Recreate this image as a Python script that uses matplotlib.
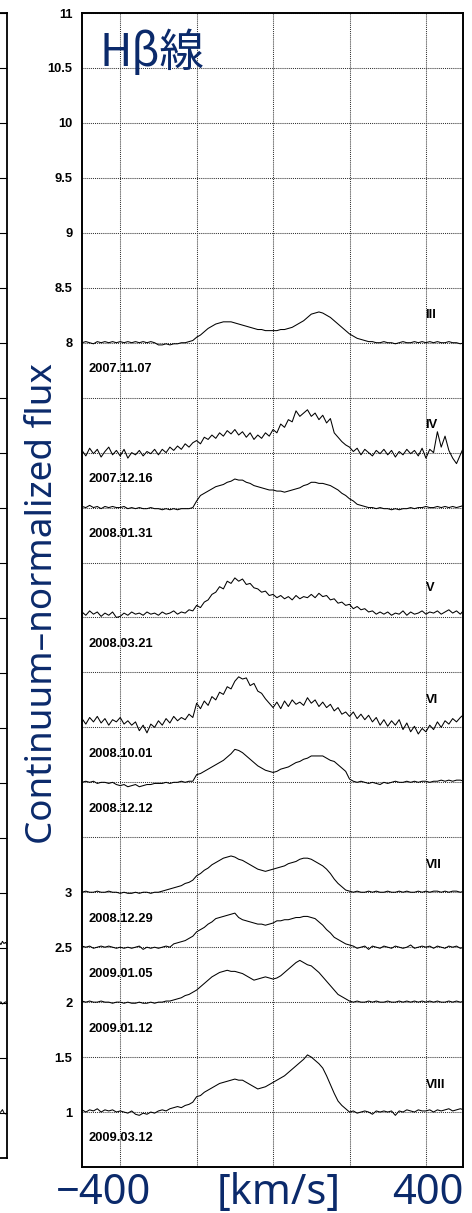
import numpy as np
import matplotlib
matplotlib.use("Agg")
import matplotlib.pyplot as plt

# ---------------- data ----------------
velocity = np.linspace(-500, 500, 101)   # km/s grid, 10 km/s step

# line profiles (flux above each spectrum's baseline)
prof_III = [0.00, 0.01, 0.00, -0.01, 0.01, 0.00, 0.01, 0.00, 0.01, 0.00,
            0.01, 0.00, 0.01, 0.00, 0.01, 0.00, 0.01, 0.00, 0.01, 0.00,
            -0.02, -0.02, -0.01, -0.02, -0.01, -0.01, 0.00, 0.00, 0.01, 0.02,
            0.05, 0.07, 0.10, 0.13, 0.15, 0.17, 0.18, 0.19, 0.19, 0.19,
            0.18, 0.17, 0.16, 0.15, 0.14, 0.13, 0.12, 0.12, 0.11, 0.11,
            0.11, 0.11, 0.12, 0.12, 0.13, 0.14, 0.16, 0.18, 0.20, 0.23,
            0.26, 0.27, 0.28, 0.27, 0.25, 0.23, 0.20, 0.17, 0.14, 0.11,
            0.08, 0.06, 0.04, 0.03, 0.02, 0.01, 0.01, 0.00, 0.00, 0.01,
            0.00, 0.00, -0.01, 0.00, 0.01, 0.00, 0.00, 0.01, 0.00, 0.01,
            0.00, 0.01, 0.00, 0.01, 0.00, 0.00, 0.01, 0.00, 0.00, -0.01,
            0.00]
prof_IV = [0.02, -0.03, 0.04, -0.01, 0.03, -0.04, 0.01, 0.05, -0.02, 0.02,
           -0.03, 0.03, -0.05, 0.00, -0.02, 0.02, -0.03, 0.01, -0.01, 0.03,
           -0.02, 0.03, 0.00, 0.05, 0.02, 0.06, 0.03, 0.08, 0.05, 0.09,
           0.11, 0.08, 0.14, 0.12, 0.16, 0.13, 0.18, 0.15, 0.20, 0.17,
           0.21, 0.16, 0.19, 0.14, 0.18, 0.12, 0.16, 0.13, 0.18, 0.15,
           0.21, 0.18, 0.26, 0.23, 0.30, 0.28, 0.38, 0.33, 0.36, 0.39,
           0.33, 0.36, 0.30, 0.34, 0.27, 0.31, 0.18, 0.14, 0.10, 0.07,
           0.05, 0.01, 0.04, -0.02, 0.03, 0.00, -0.03, 0.02, -0.01, 0.03,
           -0.02, 0.02, -0.04, 0.01, -0.02, 0.03, -0.01, 0.02, -0.03, 0.04,
           -0.05, 0.03, 0.00, 0.19, 0.05, 0.15, 0.02, -0.05, -0.10, -0.02,
           0.06]
prof_0131 = [0.01, 0.00, 0.02, 0.00, 0.01, -0.01, 0.01, 0.00, 0.01, 0.00,
             0.00, 0.01, -0.01, 0.00, -0.01, 0.00, -0.01, -0.01, 0.00, -0.01,
             -0.01, -0.02, -0.01, -0.02, -0.01, -0.02, -0.01, -0.01, -0.01, 0.00,
             0.06, 0.11, 0.13, 0.15, 0.17, 0.19, 0.20, 0.21, 0.23, 0.24,
             0.26, 0.25, 0.25, 0.23, 0.22, 0.20, 0.19, 0.18, 0.17, 0.16,
             0.16, 0.15, 0.15, 0.14, 0.15, 0.16, 0.17, 0.18, 0.20, 0.21,
             0.23, 0.23, 0.22, 0.22, 0.21, 0.20, 0.18, 0.16, 0.13, 0.11,
             0.08, 0.06, 0.03, 0.02, 0.01, 0.00, 0.00, -0.01, 0.00, -0.01,
             -0.01, -0.02, -0.01, -0.02, -0.01, -0.01, 0.00, -0.01, 0.00, 0.00,
             0.01, 0.00, 0.00, 0.01, 0.00, 0.01, 0.00, 0.01, 0.00, 0.01,
             0.02]
prof_V = [0.05, 0.02, 0.06, 0.03, 0.05, 0.01, 0.04, 0.02, 0.05, 0.00,
          0.01, 0.04, 0.02, 0.05, 0.03, 0.04, 0.02, 0.05, 0.03, 0.04,
          0.02, 0.05, 0.03, 0.04, 0.06, 0.03, 0.05, 0.04, 0.07, 0.06,
          0.11, 0.09, 0.14, 0.16, 0.21, 0.23, 0.28, 0.26, 0.33, 0.31,
          0.36, 0.33, 0.35, 0.30, 0.31, 0.27, 0.26, 0.23, 0.24, 0.20,
          0.21, 0.18, 0.20, 0.17, 0.19, 0.16, 0.20, 0.17, 0.19, 0.18,
          0.21, 0.18, 0.22, 0.19, 0.20, 0.16, 0.17, 0.13, 0.14, 0.11,
          0.12, 0.08, 0.10, 0.07, 0.08, 0.05, 0.06, 0.03, 0.05, 0.03,
          0.05, 0.02, 0.04, 0.03, 0.06, 0.02, 0.05, 0.03, 0.04, 0.06,
          0.03, 0.05, 0.04, 0.06, 0.03, 0.05, 0.07, 0.04, 0.06, 0.03,
          0.07]
prof_VI = [0.08, 0.03, 0.09, 0.05, 0.10, 0.04, 0.08, 0.02, 0.07, 0.05,
           0.09, 0.03, 0.06, 0.02, 0.05, -0.03, 0.02, -0.05, 0.03, 0.00,
           0.06, 0.02, 0.08, 0.04, 0.10, 0.06, 0.09, 0.07, 0.12, 0.09,
           0.22, 0.17, 0.24, 0.20, 0.28, 0.25, 0.32, 0.30, 0.37, 0.35,
           0.42, 0.46, 0.44, 0.45, 0.38, 0.40, 0.33, 0.31, 0.26, 0.22,
           0.18, 0.23, 0.17, 0.24, 0.19, 0.25, 0.21, 0.23, 0.20, 0.27,
           0.22, 0.25, 0.19, 0.23, 0.18, 0.21, 0.15, 0.18, 0.12, 0.14,
           0.10, 0.14, 0.08, 0.12, 0.07, 0.11, 0.05, 0.09, 0.02, 0.07,
           0.01, 0.06, 0.02, 0.07, -0.02, 0.04, -0.04, 0.01, -0.06, -0.01,
           -0.04, 0.02, -0.02, 0.05, 0.00, 0.06, 0.03, 0.08, 0.05, 0.09,
           0.12]
prof_1212 = [0.00, 0.01, 0.00, 0.01, -0.01, 0.00, 0.00, -0.01, 0.00, -0.02,
             -0.03, -0.02, -0.04, -0.03, -0.02, -0.04, -0.03, -0.02, -0.02, -0.01,
             -0.01, -0.01, 0.00, -0.01, 0.00, 0.00, 0.01, 0.00, 0.01, 0.01,
             0.07, 0.08, 0.10, 0.12, 0.14, 0.16, 0.18, 0.20, 0.23, 0.26,
             0.30, 0.29, 0.27, 0.24, 0.21, 0.18, 0.15, 0.13, 0.11, 0.10,
             0.09, 0.10, 0.12, 0.13, 0.14, 0.16, 0.18, 0.19, 0.21, 0.22,
             0.24, 0.24, 0.24, 0.24, 0.22, 0.20, 0.19, 0.16, 0.13, 0.10,
             0.03, 0.01, 0.00, 0.01, 0.00, -0.01, 0.00, -0.01, -0.02, 0.00,
             -0.01, 0.00, 0.01, 0.00, 0.00, 0.01, 0.00, 0.01, 0.00, 0.01,
             0.01, 0.00, 0.01, 0.01, 0.02, 0.01, 0.02, 0.01, 0.02, 0.02,
             0.01]
prof_VII = [0.00, 0.01, 0.00, 0.00, 0.01, 0.00, 0.00, 0.01, 0.00, 0.00,
            -0.01, 0.00, -0.01, -0.01, 0.00, -0.01, 0.00, 0.00, -0.01, 0.00,
            0.00, 0.01, 0.02, 0.03, 0.04, 0.05, 0.06, 0.08, 0.09, 0.11,
            0.15, 0.17, 0.20, 0.22, 0.25, 0.27, 0.29, 0.31, 0.32, 0.33,
            0.32, 0.30, 0.29, 0.27, 0.25, 0.23, 0.21, 0.20, 0.19, 0.20,
            0.21, 0.22, 0.23, 0.24, 0.26, 0.27, 0.28, 0.30, 0.31, 0.31,
            0.30, 0.28, 0.26, 0.24, 0.21, 0.17, 0.12, 0.08, 0.05, 0.02,
            0.01, 0.00, 0.01, 0.00, 0.00, 0.01, 0.00, 0.01, 0.00, 0.00,
            0.01, 0.00, 0.00, 0.01, 0.00, 0.01, 0.00, 0.00, 0.01, 0.00,
            0.01, 0.00, 0.01, 0.01, 0.00, 0.01, 0.00, 0.01, 0.01, 0.00,
            0.01]
prof_0105 = [0.01, 0.00, 0.01, -0.01, 0.00, 0.01, 0.00, 0.01, 0.00, -0.01,
             0.00, -0.01, 0.00, -0.01, 0.00, 0.01, -0.02, 0.00, -0.01, 0.00,
             -0.01, 0.00, 0.01, 0.00, 0.03, 0.04, 0.05, 0.06, 0.08, 0.10,
             0.14, 0.16, 0.18, 0.21, 0.23, 0.26, 0.27, 0.28, 0.29, 0.30,
             0.31, 0.27, 0.25, 0.24, 0.23, 0.22, 0.21, 0.21, 0.20, 0.21,
             0.22, 0.24, 0.24, 0.25, 0.25, 0.26, 0.27, 0.27, 0.28, 0.28,
             0.27, 0.26, 0.23, 0.20, 0.16, 0.13, 0.09, 0.07, 0.05, 0.03,
             0.02, 0.01, -0.01, 0.00, 0.01, -0.02, 0.01, 0.00, -0.01, 0.01,
             0.00, -0.01, 0.01, 0.00, -0.01, 0.00, 0.02, -0.01, 0.00, 0.01,
             0.00, 0.01, -0.01, 0.01, 0.00, -0.01, 0.01, 0.00, 0.01, -0.01,
             0.00]
prof_0112 = [0.01, 0.00, 0.01, 0.00, 0.00, 0.01, 0.00, 0.00, -0.01, 0.00,
             0.00, -0.01, 0.00, -0.01, -0.01, 0.00, -0.01, -0.01, 0.00, -0.01,
             0.00, 0.00, 0.01, 0.01, 0.02, 0.03, 0.04, 0.06, 0.07, 0.09,
             0.11, 0.14, 0.17, 0.20, 0.23, 0.25, 0.27, 0.28, 0.29, 0.28,
             0.28, 0.27, 0.26, 0.24, 0.22, 0.20, 0.21, 0.22, 0.23, 0.22,
             0.21, 0.22, 0.24, 0.27, 0.30, 0.33, 0.36, 0.38, 0.36, 0.34,
             0.33, 0.30, 0.27, 0.23, 0.19, 0.15, 0.11, 0.07, 0.05, 0.03,
             0.01, 0.00, 0.01, 0.00, 0.00, 0.01, 0.00, 0.01, 0.00, 0.00,
             0.01, 0.00, 0.00, 0.01, 0.00, 0.01, 0.00, 0.01, 0.00, 0.01,
             0.00, 0.01, 0.00, 0.01, 0.00, 0.00, 0.01, 0.00, 0.01, 0.00,
             0.01]
prof_VIII = [0.02, 0.00, 0.02, 0.01, 0.03, 0.00, 0.02, 0.01, 0.02, 0.00,
             0.01, 0.00, -0.01, 0.01, -0.02, -0.03, -0.01, -0.02, 0.00, -0.01,
             0.01, 0.02, 0.01, 0.03, 0.04, 0.05, 0.04, 0.06, 0.07, 0.09,
             0.14, 0.15, 0.18, 0.20, 0.22, 0.24, 0.26, 0.27, 0.28, 0.29,
             0.30, 0.29, 0.29, 0.27, 0.25, 0.23, 0.21, 0.22, 0.23, 0.25,
             0.27, 0.29, 0.31, 0.33, 0.36, 0.39, 0.42, 0.45, 0.48, 0.52,
             0.50, 0.47, 0.44, 0.40, 0.33, 0.25, 0.17, 0.10, 0.06, 0.03,
             0.00, 0.01, -0.01, 0.00, 0.01, 0.00, -0.02, 0.01, 0.00, 0.01,
             0.00, 0.01, -0.03, 0.01, 0.00, 0.02, 0.01, 0.00, 0.02, 0.01,
             0.01, 0.02, 0.00, 0.02, 0.01, 0.02, 0.03, 0.01, 0.02, 0.03,
             0.02]

profiles = [prof_III, prof_IV, prof_0131, prof_V, prof_VI,
            prof_1212, prof_VII, prof_0105, prof_0112, prof_VIII]
baselines = [8.0, 7.0, 6.5, 5.5, 4.5, 4.0, 3.0, 2.5, 2.0, 1.0]
dates = ["2007.11.07", "2007.12.16", "2008.01.31", "2008.03.21", "2008.10.01",
         "2008.12.12", "2008.12.29", "2009.01.05", "2009.01.12", "2009.03.12"]
phase_labels = ["III", "IV", "", "V", "VI", "", "VII", "", "", "VIII"]
phase_y = [8.25, 7.25, None, 5.77, 4.75, None, 3.25, None, None, 1.25]

ytick_values = [1, 1.5, 2, 2.5, 3, 3.5, 4, 4.5, 5, 5.5, 6, 6.5, 7, 7.5, 8,
                8.5, 9, 9.5, 10, 10.5, 11]
ytick_labels = ["1", "1.5", "2", "2.5", "3", "", "", "", "", "", "", "", "", "",
                "8", "8.5", "9", "9.5", "10", "10.5", "11"]
xgrid_values = [-400, -200, 0, 200, 400]

# fragments of the neighbouring panel visible at the left edge
left_v = [480, 484, 488, 492, 496, 500]
left_traces = [[2.55, 2.53, 2.56, 2.54, 2.55, 2.53],
               [2.00, 2.01, 1.99, 2.00, 2.01, 2.00],
               [1.00, 1.01, 1.03, 1.00, 0.99, 1.00]]

NAVY = "#0b2a6b"
SMALL = 9.3

# ---------------- figure ----------------
W, H = 472, 1213
fig = plt.figure(figsize=(W / 100, H / 100), dpi=100)

def px_rect(x0, y0, x1, y1):
    return [x0 / W, 1 - y1 / H, (x1 - x0) / W, (y1 - y0) / H]

# neighbouring panel (only its right edge is visible)
axL = fig.add_axes(px_rect(-374, 13, 7, 1158))
axL.set_xlim(-500, 500)
axL.set_ylim(0.59, 11)
for tr in left_traces:
    axL.plot(left_v, tr, color="black", lw=0.7)
axL.set_yticks([v for v in ytick_values if v >= 1])
axL.tick_params(axis="y", direction="in", length=6, width=0.8,
                left=False, right=True, labelleft=False)
axL.set_xticks([])
for s in axL.spines.values():
    s.set_linewidth(1.3)

# main panel
ax = fig.add_axes(px_rect(82, 13, 463, 1167))
ax.set_xlim(-500, 497)
ax.set_ylim(0.5, 11)

for prof, base in zip(profiles, baselines):
    ax.plot(velocity, np.array(prof) + base, color="black", lw=0.75)

for d, base in zip(dates, baselines):
    ax.text(-482, base - 0.24, d, fontsize=SMALL, fontweight="bold",
            family="Liberation Sans", ha="left", va="center")

for lab, yy in zip(phase_labels, phase_y):
    if lab:
        ax.text(399, yy, lab, fontsize=SMALL, fontweight="bold",
                family="Liberation Sans", ha="left", va="center")

ax.set_yticks(ytick_values)
ax.set_yticklabels(ytick_labels, fontsize=SMALL, fontweight="bold",
                   family="Liberation Sans")
ax.set_xticks(xgrid_values)
ax.set_xticklabels([])
ax.tick_params(axis="both", length=0, pad=7)
ax.grid(True, color="#333333", lw=0.75, linestyle=(0, (1, 1)))
for s in ax.spines.values():
    s.set_linewidth(1.4)

# overlay texts
fig.text(100 / W, 1 - 66 / H, "Hβ線", color=NAVY, fontsize=32,
         family=["Noto Sans CJK JP", "DejaVu Sans"], ha="left", va="baseline")
fig.text(43 / W, 1 - 603 / H, "Continuum–normalized flux", color=NAVY,
         fontsize=26.5, family="Noto Sans", rotation=90,
         ha="center", va="center")
fig.text(103 / W, 1 - 1193 / H, "−400", color=NAVY, fontsize=30,
         family="Noto Sans", ha="center", va="center")
fig.text(279 / W, 1 - 1193 / H, "[km/s]", color=NAVY, fontsize=30,
         family="Noto Sans", ha="center", va="center")
fig.text(428 / W, 1 - 1193 / H, "400", color=NAVY, fontsize=30,
         family="Noto Sans", ha="center", va="center")

fig.savefig("out.png", dpi=100)
